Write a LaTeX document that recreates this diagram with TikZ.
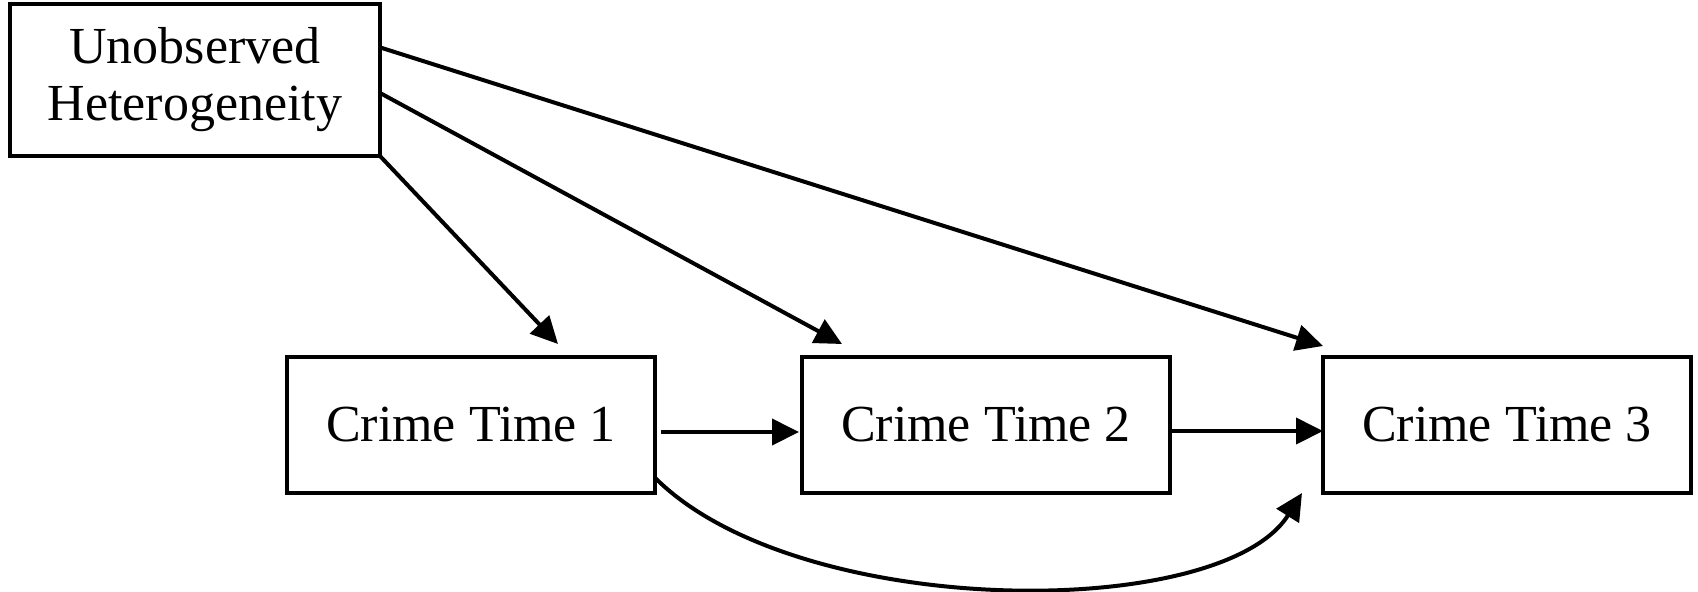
\documentclass[tikz,border=0pt]{standalone}
\usepackage{fontspec}
\setmainfont{Liberation Serif}
\usetikzlibrary{arrows.meta, positioning, calc}

\begin{document}
\begin{tikzpicture}[x=0.5pt, y=-0.5pt,
    box/.style={draw, line width=2pt, minimum width=184pt, minimum height=68pt,
        inner sep=0pt, outer sep=0pt, align=center, font=\fontsize{26}{28.5}\selectfont},
    arr/.style={line width=2pt, -{Triangle[length=13.5pt, width=13pt]}}]
    \useasboundingbox (0,0) rectangle (1698,591);

    \node[box, minimum width=185pt, minimum height=76pt] (U) at (195,80) {Unobserved\\Heterogeneity};
    \node[box] (T1) at (471,425) {Crime Time 1};
    \node[box, right=73.5pt of T1] (T2) {Crime Time 2};
    \node[box, right=76.5pt of T2] (T3) {Crime Time 3};

    % free arrow ends just outside the boxes
    \coordinate (e1) at ($(T1.north)+(87,-13)$);
    \coordinate (e2) at ($(T2.north)+(-144,-13)$);
    \coordinate (e3) at ($(T3.north west)+(0,-11)$);
    \coordinate (e4) at ($(T3.south west)+(-21,0)$);

    \draw[arr] (U.south east) -- (e1);
    \draw[arr] (U.-4.3) -- (e2);
    \draw[arr] (U.10.7) -- (e3);

    \draw[arr] ([xshift=3pt, yshift=-3.5pt]T1.east) -- ([xshift=-1.5pt, yshift=-3.5pt]T2.west);
    \draw[arr] ([yshift=-3pt]T2.east) -- ([yshift=-3pt]T3.west);
    \draw[arr] (T1.-16.3) .. controls +(143,143) and +(-81,129) .. (e4);
\end{tikzpicture}
\end{document}
